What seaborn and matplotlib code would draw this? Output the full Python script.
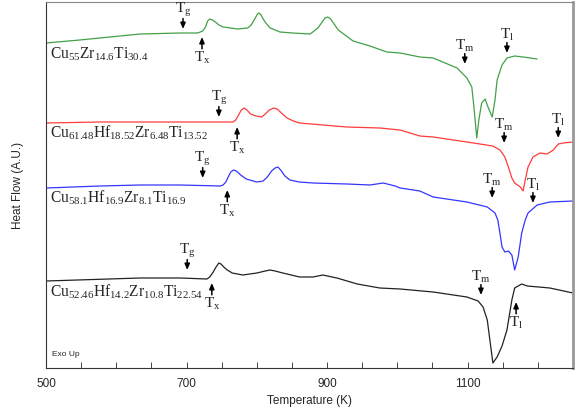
import matplotlib
matplotlib.use("Agg")
import matplotlib.pyplot as plt
import numpy as np
import pandas as pd
import seaborn as sns
from matplotlib.ticker import MultipleLocator, NullLocator

# DSC traces, temperature (K) vs heat flow (arbitrary units, exo up)
temp_a = [500, 548, 634, 691, 716, 723, 727, 730, 733, 737, 741, 746, 752, 773, 787, 792,
          797, 801, 803, 806, 810, 814, 819, 833, 851, 876, 887, 892, 897, 901, 905, 909,
          916, 937, 961, 985, 1004, 1032, 1051, 1085, 1099, 1106, 1109, 1113, 1116, 1120,
          1125, 1129, 1135, 1139, 1142, 1149, 1156, 1167, 1179, 1199]
flow_a = [325, 328, 334, 335, 335, 337, 341, 347, 349, 348, 346, 343, 341, 339, 340, 343,
          349, 354, 355, 353, 348, 344, 340, 336, 335, 334, 340, 345, 350, 351, 349, 345,
          338, 327, 322, 316, 315, 311, 310, 300, 290, 281, 261, 230, 248, 265,
          269, 261, 251, 268, 288, 303, 310, 312, 311, 309]

temp_b = [500, 577, 691, 766, 770, 774, 778, 782, 786, 791, 799, 807, 812, 818, 824, 829,
          835, 843, 852, 861, 894, 928, 975, 1004, 1032, 1051, 1099, 1136, 1146, 1153,
          1158, 1163, 1167, 1175, 1179, 1182, 1186, 1193, 1203, 1213, 1222, 1229, 1236, 1250]
flow_b = [245, 246, 246, 246, 248, 253, 258, 260, 258, 254, 252, 251, 254, 258, 260, 259,
          255, 250, 247, 245, 243, 241, 240, 238, 232, 231, 226, 222, 218, 211,
          201, 190, 185, 181, 177, 188, 201, 211, 215, 214, 218, 224, 225, 226]

temp_c = [500, 577, 634, 691, 748, 752, 756, 760, 763, 767, 771, 777, 785, 800, 809, 815,
          821, 826, 830, 834, 840, 847, 860, 880, 928, 961, 980, 997, 1004, 1032, 1051,
          1099, 1128, 1139, 1143, 1146, 1149, 1153, 1158, 1163, 1167, 1172, 1177, 1182,
          1186, 1199, 1217, 1250]
flow_c = [180, 182, 183, 183, 182, 183, 186, 192, 196, 198, 197, 193, 189, 186, 187, 191,
          197, 200, 201, 198, 192, 188, 186, 185, 184, 183, 185, 182, 180, 177, 171,
          166, 161, 155, 148, 135, 121, 116, 117, 113, 98, 111, 135, 148,
          155, 163, 166, 167]

temp_d = [500, 634, 691, 729, 733, 738, 742, 746, 749, 753, 758, 765, 780, 800, 812, 819,
          826, 837, 861, 880, 894, 914, 943, 975, 1004, 1051, 1099, 1115, 1122, 1128, 1133,
          1136, 1142, 1149, 1156, 1163, 1167, 1177, 1185, 1217, 1250]
flow_d = [87, 90, 90, 89, 91, 96, 101, 105, 104, 101, 98, 95, 93, 95, 97, 98,
          97, 95, 91, 91, 93, 90, 84, 80, 79, 76, 71, 67, 61, 48, 21,
          5, 11, 22, 38, 68, 80, 84, 82, 80, 75]

alloys = [r"$\mathrm{Cu_{55}Zr_{14.6}Ti_{30.4}}$",
          r"$\mathrm{Cu_{61.48}Hf_{18.52}Zr_{6.48}Ti_{13.52}}$",
          r"$\mathrm{Cu_{58.1}Hf_{16.9}Zr_{8.1}Ti_{16.9}}$",
          r"$\mathrm{Cu_{52.46}Hf_{14.2}Zr_{10.8}Ti_{22.54}}$"]
colors = ["#43a047", "#ff3b3b", "#3535ff", "#222222"]
label_temp = [506, 506, 506, 506]
label_flow = [314, 235, 170, 76]

x_ticks = [500, 700, 900, 1100]

# characteristic temperatures: (name, T, flow at arrow tip, arrow direction)
marks = [
    ("g", 695, 339, "down"), ("x", 722, 331, "up"),
    ("m", 1096, 304, "down"), ("l", 1156, 315, "down"),
    ("g", 746, 251, "down"), ("x", 772, 241, "up"),
    ("m", 1152, 225, "down"), ("l", 1229, 230, "down"),
    ("g", 723, 190, "down"), ("x", 758, 178, "up"),
    ("m", 1135, 170, "down"), ("l", 1193, 165, "down"),
    ("g", 701, 98, "down"), ("x", 736, 85, "up"),
    ("m", 1119, 73, "down"), ("l", 1169, 66, "up"),
]

sns.set_style("white")
plt.rcParams["font.family"] = ["Liberation Sans", "DejaVu Sans"]
plt.rcParams["mathtext.fontset"] = "custom"
plt.rcParams["mathtext.rm"] = "Liberation Serif"
plt.rcParams["mathtext.it"] = "Liberation Serif:italic"

frames = []
for name, t, f in zip(alloys, [temp_a, temp_b, temp_c, temp_d], [flow_a, flow_b, flow_c, flow_d]):
    frames.append(pd.DataFrame({"T": t, "flow": f, "alloy": name}))
df = pd.concat(frames, ignore_index=True)

fig = plt.figure(figsize=(5.85, 4.07), dpi=100)
ax = fig.add_axes([46 / 585, 1 - 368 / 407, 527 / 585, 366 / 407])
sns.lineplot(data=df, x="T", y="flow", hue="alloy", palette=colors, estimator=None,
             sort=False, linewidth=0.9, legend=False, ax=ax)

for name, t, f in zip(alloys, label_temp, label_flow):
    ax.text(t, f, name, fontsize=11.2, va="center", ha="left")

for sub, t, f, d in marks:
    down = d == "down"
    ax.annotate("", xy=(t, f), xytext=(0, 7.5 if down else -8.5), textcoords="offset points",
                arrowprops=dict(arrowstyle="-|>,head_length=0.35,head_width=0.15",
                                color="black", lw=1.1, shrinkA=0, shrinkB=0))
    ax.annotate(r"$\mathrm{T_{%s}}$" % sub, xy=(t, f), xytext=(0, 7 if down else -9.5),
                textcoords="offset points", ha="center",
                va="bottom" if down else "top", fontsize=11)

ax.text(508, 10, "Exo Up", fontsize=6, ha="left", va="bottom")

ax.set_xlim(500, 1250)
ax.set_ylim(0, 366)
ax.set_xticks(x_ticks)
ax.xaxis.set_minor_locator(MultipleLocator(50))
ax.yaxis.set_major_locator(NullLocator())
ax.tick_params(axis="x", which="both", direction="in", length=4, width=0.6,
               labelsize=8.5, pad=7, bottom=True)
ax.set_xlabel("Temperature (K)", fontsize=8.5, labelpad=4)
ax.set_ylabel("Heat Flow (A.U.)", fontsize=8.5, labelpad=16)

for side in ["left", "bottom"]:
    ax.spines[side].set_color("#333333")
    ax.spines[side].set_linewidth(0.8)
ax.spines["top"].set_color("#888888")
ax.spines["top"].set_linewidth(0.8)
ax.spines["right"].set_color("#999999")
ax.spines["right"].set_linewidth(2)

fig.savefig("out.png", dpi=100)
